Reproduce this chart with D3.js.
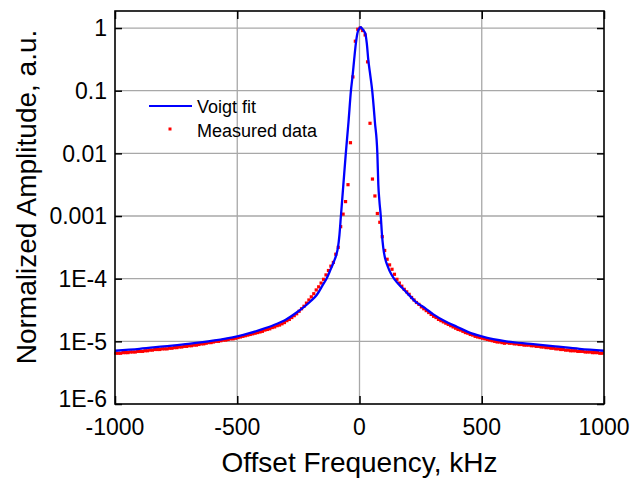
<!DOCTYPE html>
<html lang="en">
  <head>
    <meta charset="UTF-8" />
    <title>Voigt fit vs measured data</title>
    <script src="https://d3js.org/d3.v7.min.js"></script>
    <style>
      body {
        margin: 0;
        background: #fff;
      }
      text {
        font-family: "Liberation Sans", Arial, sans-serif;
        fill: #000;
      }
      .grid line {
        stroke: #a8a8a8;
        stroke-width: 1.3px;
      }
    </style>
  </head>
  <body>
    <svg id="chart" width="632" height="481"></svg>
    <script>
      const width = 632;
      const height = 481;

      // x ticks (kHz) and y ticks (amplitude)
      const xTicks = [-1000, -500, 0, 500, 1000];
      const yTicks = [1e-6, 1e-5, 1e-4, 1e-3, 1e-2, 1e-1, 1];
      const yTickLabels = ["1E-6", "1E-5", "1E-4", "0.001", "0.01", "0.1", "1"];

      // Voigt fit: [offset kHz, log10 amplitude]
      const fitCurve = [
        [-1000, -5.15], [-900, -5.12], [-800, -5.08], [-700, -5.04], [-600, -4.99],
        [-500, -4.92], [-450, -4.87], [-400, -4.81], [-350, -4.74], [-300, -4.65],
        [-250, -4.52], [-200, -4.36], [-175, -4.26], [-150, -4.1], [-135, -4.0],
        [-120, -3.87], [-105, -3.73], [-95, -3.62], [-88, -3.5], [-82, -3.3],
        [-76, -3.0], [-66, -2.5], [-56, -2.0], [-45, -1.5], [-35, -1.0],
        [-28, -0.75], [-22, -0.51], [-15, -0.25], [-9, -0.09], [-3, -0.02],
        [5, 0.015], [13, -0.02], [20, -0.06], [24, -0.09], [30, -0.25],
        [36, -0.51], [44, -0.75], [52, -1.0], [63, -1.5], [73, -2.0],
        [77, -2.5], [81, -2.74], [87, -3.0], [92, -3.3], [97, -3.5],
        [105, -3.68], [115, -3.8], [130, -3.93], [145, -4.02], [170, -4.13],
        [195, -4.23], [230, -4.37], [268, -4.47], [302, -4.57], [350, -4.68],
        [400, -4.77], [450, -4.86], [500, -4.92], [600, -5.0], [700, -5.04],
        [800, -5.08], [900, -5.12], [1000, -5.15]
      ];

      // measured data: frequencies (kHz), one every 10 kHz from -997
      const measuredFreq = d3.range(-997, 1000, 10);
      // measured data: log10 amplitude at each frequency
      const measuredLog = [
        -5.19, -5.19, -5.19, -5.18, -5.18, -5.18, -5.17, -5.17, -5.17, -5.16,
        -5.16, -5.16, -5.15, -5.15, -5.14, -5.14, -5.13, -5.13, -5.13, -5.12,
        -5.12, -5.12, -5.11, -5.11, -5.1, -5.1, -5.09, -5.09, -5.08, -5.08,
        -5.07, -5.07, -5.06, -5.06, -5.05, -5.04, -5.04, -5.03, -5.02, -5.02,
        -5.01, -5.0, -5.0, -4.99, -4.98, -4.98, -4.97, -4.96, -4.96, -4.95,
        -4.94, -4.93, -4.92, -4.91, -4.9, -4.89, -4.88, -4.87, -4.86, -4.85,
        -4.84, -4.82, -4.81, -4.8, -4.78, -4.77, -4.75, -4.74, -4.72, -4.7,
        -4.67, -4.65, -4.62, -4.59, -4.56, -4.52, -4.48, -4.44, -4.39, -4.34,
        -4.29, -4.24, -4.18, -4.13, -4.07, -4.01, -3.94, -3.87, -3.8, -3.74,
        -3.61, -3.5, -3.17, -2.97, -2.77, -2.5, -1.83, -0.78, -0.21, -0.02,
        0.0, -0.04, -0.11, -0.54, -1.52, -2.41, -2.68, -2.96, -3.1, -3.33,
        -3.55, -3.69, -3.78, -3.85, -3.93, -4.01, -4.07, -4.12, -4.17, -4.21,
        -4.25, -4.3, -4.34, -4.38, -4.41, -4.45, -4.48, -4.51, -4.54, -4.57,
        -4.6, -4.62, -4.65, -4.67, -4.69, -4.71, -4.73, -4.75, -4.77, -4.79,
        -4.81, -4.82, -4.84, -4.86, -4.87, -4.89, -4.9, -4.92, -4.93, -4.94,
        -4.95, -4.96, -4.97, -4.98, -4.99, -5.0, -5.01, -5.01, -5.02, -5.03,
        -5.02, -5.03, -5.03, -5.04, -5.04, -5.05, -5.05, -5.06, -5.06, -5.06,
        -5.07, -5.07, -5.08, -5.08, -5.09, -5.09, -5.1, -5.1, -5.11, -5.11,
        -5.12, -5.12, -5.13, -5.13, -5.14, -5.14, -5.15, -5.15, -5.15, -5.16,
        -5.16, -5.16, -5.17, -5.17, -5.17, -5.18, -5.18, -5.18, -5.19, -5.19
      ];

      const plotLeft = 115, plotRight = 604, plotTop = 11, plotBottom = 404;
      const svg = d3.select("#chart");

      const x = d3.scaleLinear().domain([-1000, 1000]).range([plotLeft, plotRight]);
      const y = d3.scaleLog().domain([1e-6, 1.87]).range([plotBottom, plotTop]);

      // grid
      const grid = svg.append("g").attr("class", "grid");
      grid.selectAll(".gy")
        .data(yTicks.slice(1))
        .enter()
        .append("line")
        .attr("x1", plotLeft).attr("x2", plotRight)
        .attr("y1", (d) => y(d)).attr("y2", (d) => y(d));
      grid.selectAll(".gx")
        .data(xTicks.slice(1, -1))
        .enter()
        .append("line")
        .attr("y1", plotTop).attr("y2", plotBottom)
        .attr("x1", (d) => x(d)).attr("x2", (d) => x(d));

      // axes, ticks drawn inward on all four sides
      const axisStyle = (g) => {
        g.select(".domain").remove();
        g.selectAll(".tick line").attr("stroke", "#000").attr("stroke-width", 1.5);
        g.selectAll("text").remove();
      };
      svg.append("g")
        .attr("transform", `translate(${plotLeft},0)`)
        .call(d3.axisLeft(y).tickValues(yTicks).tickSize(-7))
        .call(axisStyle);
      svg.append("g")
        .attr("transform", `translate(${plotRight},0)`)
        .call(d3.axisRight(y).tickValues(yTicks).tickSize(-7))
        .call(axisStyle);
      svg.append("g")
        .attr("transform", `translate(0,${plotBottom})`)
        .call(d3.axisBottom(x).tickValues(xTicks).tickSize(-8))
        .call(axisStyle);
      svg.append("g")
        .attr("transform", `translate(0,${plotTop})`)
        .call(d3.axisTop(x).tickValues(xTicks).tickSize(-8))
        .call(axisStyle);

      // tick labels (the bottom one sits a little higher, clear of -1000)
      svg.append("g")
        .selectAll("text")
        .data(yTicks)
        .enter()
        .append("text")
        .attr("x", plotLeft - 8)
        .attr("y", (d, i) => y(d) - (i === 0 ? 5 : 0))
        .attr("dy", "0.36em")
        .attr("text-anchor", "end")
        .style("font-size", "23px")
        .text((d, i) => yTickLabels[i]);
      svg.append("g")
        .selectAll("text")
        .data(xTicks)
        .enter()
        .append("text")
        .attr("x", (d) => x(d))
        .attr("y", 435)
        .attr("text-anchor", "middle")
        .style("font-size", "23px")
        .text((d) => d);

      // measured data
      const measured = measuredFreq.map((f, i) => [f, Math.pow(10, measuredLog[i])]);
      svg.append("g")
        .selectAll("rect")
        .data(measured)
        .enter()
        .append("rect")
        .attr("x", (d) => x(d[0]) - 1.6)
        .attr("y", (d) => y(d[1]) - 1.6)
        .attr("width", 3.2)
        .attr("height", 3.2)
        .attr("fill", "#ff0000");

      // Voigt fit
      const line = d3.line()
        .x((d) => x(d[0]))
        .y((d) => y(Math.pow(10, d[1])))
        .curve(d3.curveMonotoneX);
      svg.append("path")
        .datum(fitCurve)
        .attr("d", line)
        .attr("fill", "none")
        .attr("stroke", "#0000ff")
        .attr("stroke-width", 2.3);

      // frame
      svg.append("rect")
        .attr("x", plotLeft).attr("y", plotTop)
        .attr("width", plotRight - plotLeft).attr("height", plotBottom - plotTop)
        .attr("fill", "none")
        .attr("stroke", "#000")
        .attr("stroke-width", 1.6);

      // legend
      const legend = svg.append("g");
      legend.append("line")
        .attr("x1", 149).attr("x2", 192)
        .attr("y1", 106).attr("y2", 106)
        .attr("stroke", "#0000ff")
        .attr("stroke-width", 2);
      legend.append("text")
        .attr("x", 197).attr("y", 112.5)
        .style("font-size", "18px")
        .text("Voigt fit");
      legend.append("rect")
        .attr("x", 168.5).attr("y", 127.5)
        .attr("width", 3).attr("height", 3)
        .attr("fill", "#ff0000");
      legend.append("text")
        .attr("x", 197).attr("y", 136.5)
        .style("font-size", "18px")
        .text("Measured data");

      // axis titles
      svg.append("text")
        .attr("x", (plotLeft + plotRight) / 2)
        .attr("y", 472)
        .attr("text-anchor", "middle")
        .style("font-size", "28px")
        .text("Offset Frequency, kHz");
      svg.append("text")
        .attr("transform", "translate(36,197) rotate(-90)")
        .attr("text-anchor", "middle")
        .style("font-size", "28px")
        .text("Normalized Amplitude, a.u.");
    </script>
  </body>
</html>
